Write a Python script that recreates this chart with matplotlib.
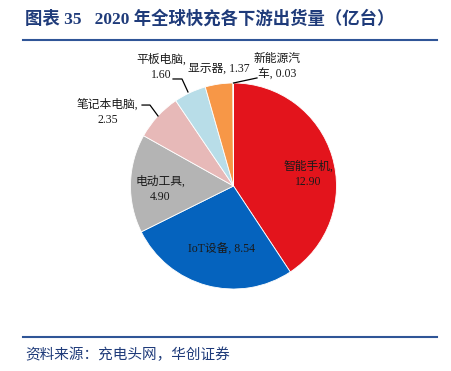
import matplotlib.pyplot as plt

plt.rcParams['font.family'] = ['Liberation Serif', 'Noto Sans CJK SC', 'DejaVu Sans']

categories = ['智能手机', 'IoT设备', '电动工具', '笔记本电脑', '平板电脑', '显示器', '新能源汽车']
values = [12.90, 8.54, 4.90, 2.35, 1.60, 1.37, 0.03]
labels = ['智能手机,\n12.90', 'IoT设备, 8.54', '电动工具,\n4.90', '笔记本电脑,\n2.35',
          '平板电脑,\n1.60', '显示器, 1.37', '新能源汽\n车, 0.03']
colors = ['#E3141C', '#0563BE', '#B4B4B4', '#E7B9B8', '#B8DDE8', '#F79747', '#8C8C8C']

navy = '#1F3B7A'
line_c = '#2F5597'

fig = plt.figure(figsize=(4.51, 3.71), dpi=100)

# title + rules
fig.text(25 / 451, 1 - 19 / 371, '图表 35   2020 年全球快充各下游出货量（亿台）',
         fontsize=12.5, fontweight='bold', color=navy, va='center', ha='left')
fig.add_artist(plt.Line2D([23 / 451, 437 / 451], [1 - 40 / 371] * 2, color=line_c, lw=1.5))
fig.add_artist(plt.Line2D([23 / 451, 437 / 451], [1 - 337 / 371] * 2, color=line_c, lw=1.5))
fig.text(25 / 451, 1 - 355 / 371, '资料来源：充电头网，华创证券',
         fontsize=10.5, style='italic', color=navy, va='center', ha='left')

# pie axes: center (233.5, 186) px, radius 103 px
cx, cy, r = 233.5, 186, 103
ax = fig.add_axes([(cx - r) / 451, (371 - cy - r) / 371, 2 * r / 451, 2 * r / 371])
ax.pie(values, colors=colors, startangle=90, counterclock=False, radius=1,
       wedgeprops=dict(linewidth=0.6, edgecolor='white'))
ax.set_xlim(-1, 1)
ax.set_ylim(-1, 1)
ax.axis('off')

label_pos = [(0.723, 0.117), (-0.121, -0.621), (-0.714, -0.029), (-1.22, 0.718),
             (-0.704, 1.155), (-0.141, 1.136), (0.42, 1.155)]
for lab, (x, y) in zip(labels, label_pos):
    ax.text(x, y, lab, ha='center', va='center', fontsize=8.5, color='#1a1a1a',
            linespacing=1.35, clip_on=False)

# leader lines
leaders = [
    [(-0.888, 0.786), (-0.811, 0.786), (-0.733, 0.680)],
    [(-0.587, 1.039), (-0.5, 1.039), (-0.442, 0.913)],
    [(0.0, 1.0), (0.228, 1.049)],
]
for pts in leaders:
    xs, ys = zip(*pts)
    ax.plot(xs, ys, color='black', lw=0.9, clip_on=False)

fig.savefig('out.png', dpi=100)
